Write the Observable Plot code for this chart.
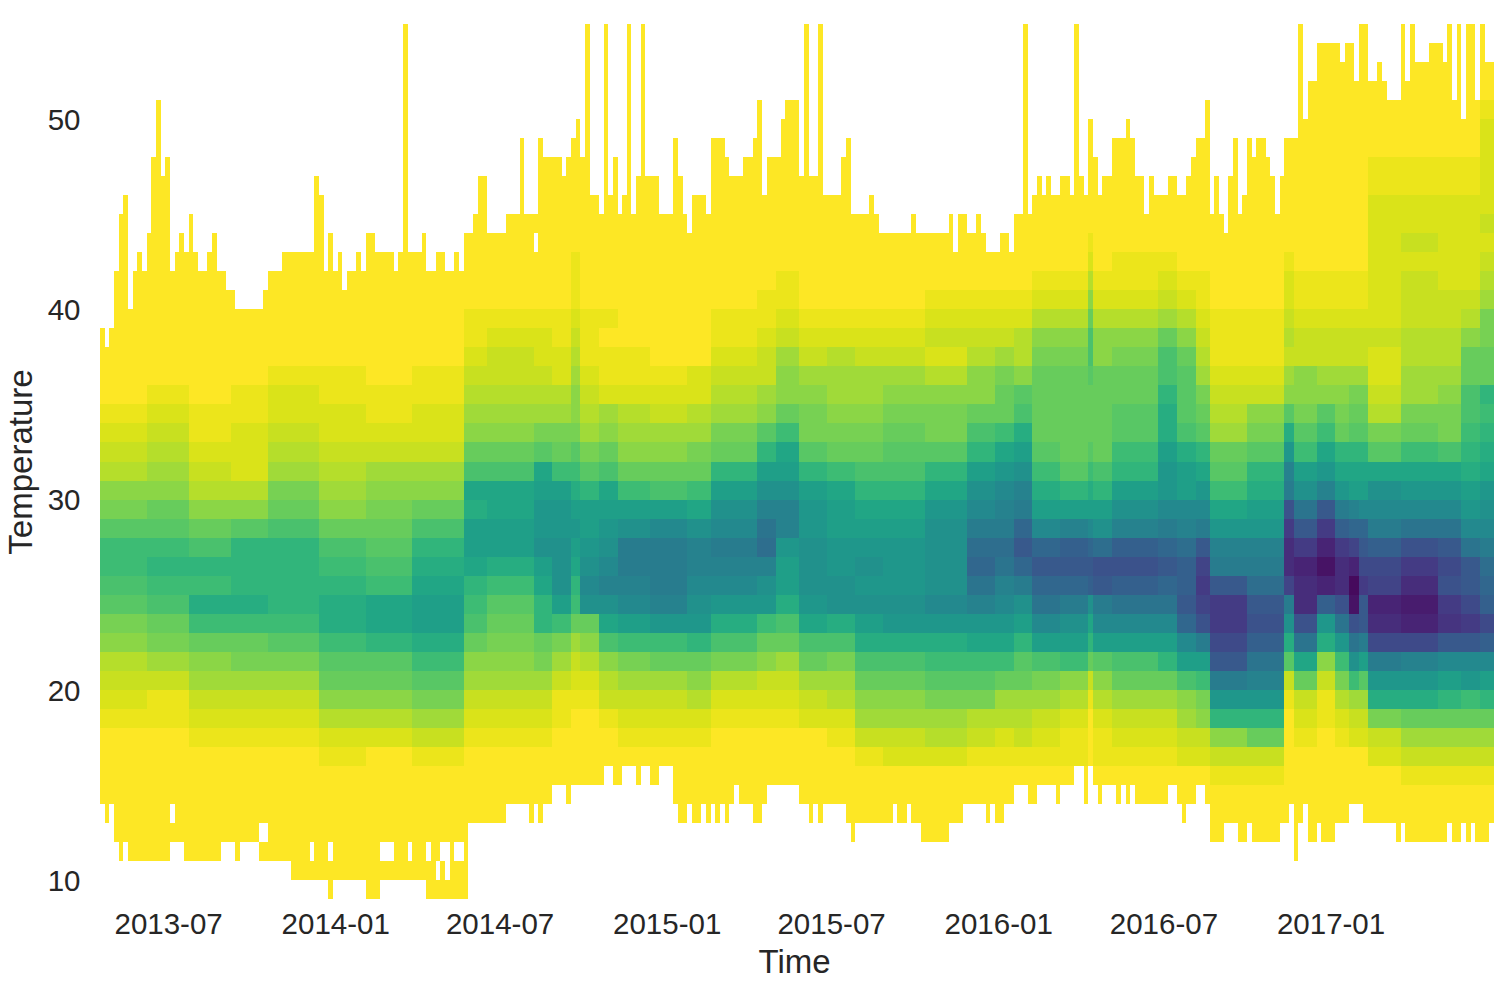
<!DOCTYPE html>
<html>
<head>
<meta charset="utf-8">
<script src="https://cdn.jsdelivr.net/npm/d3@7"></script>
<script src="https://cdn.jsdelivr.net/npm/@observablehq/plot@0.6"></script>
<style>html,body{margin:0;padding:0;background:#fff}svg{display:block}</style>
</head>
<body>
<div id="chart"></div>
<script>
const xTicks = ["2013-07-01","2014-01-01","2014-07-01","2015-01-01","2015-07-01","2016-01-01","2016-07-01","2017-01-01"];
const yTicks = [10,20,30,40,50];
const timeStart = "2013-04-17";
const timeEnd = "2017-06-30";

// Upper edge of the filled range, one value per time column
const tops = [
39,38,39,42,45,46,40,42,43,42,44,48,51,47,48,42,43,44,43,45,
43,42,42,43,44,42,42,41,41,40,40,40,40,40,40,41,42,42,42,43,
43,43,43,43,43,43,47,46,42,44,42,43,41,42,42,43,42,44,44,43,
43,43,43,42,43,55,43,43,43,44,42,42,43,43,42,42,43,42,44,44,
45,47,47,44,44,44,44,45,45,45,49,45,45,45,49,48,48,48,48,47,
48,49,50,48,55,46,46,45,55,46,48,45,46,55,45,47,55,47,47,47,
45,45,45,49,47,45,44,46,46,46,45,49,49,49,48,47,47,47,48,48,
49,51,46,48,48,48,50,51,51,51,47,55,47,47,55,46,46,46,46,48,
49,45,45,45,45,46,45,44,44,44,44,44,44,44,45,44,44,44,44,44,
44,44,45,43,45,45,44,44,45,44,43,43,43,44,44,43,45,45,55,45,
46,47,46,47,46,46,47,47,46,55,47,46,50,48,46,47,47,49,49,49,
50,49,47,47,45,47,46,46,46,47,47,46,46,47,48,49,49,51,45,47,
45,44,47,49,45,46,49,48,49,49,48,47,45,47,49,49,49,55,50,52,
52,54,54,54,54,54,53,54,54,52,55,55,52,52,53,52,51,51,51,55,
52,55,53,53,53,54,54,54,53,55,51,55,50,55,55,51,55,53,53];

// Lower edge of the filled range, one value per time column
const bottoms = [
14,13,14,12,11,12,11,11,11,11,11,11,11,11,11,12,12,12,11,11,
11,11,11,11,11,11,12,12,12,11,12,12,12,12,11,11,11,11,11,11,
11,10,10,10,10,10,10,10,10,9,10,10,10,10,10,10,10,9,9,9,
10,10,10,10,10,10,10,10,10,10,9,9,9,9,9,9,9,9,9,13,
13,13,13,13,13,13,13,14,14,14,14,14,13,14,13,14,14,15,15,15,
14,15,15,15,15,15,15,15,16,16,15,15,16,16,16,15,16,16,15,15,
16,16,16,14,13,13,14,13,13,14,13,14,13,14,13,14,15,14,14,14,
13,13,14,15,15,15,15,15,15,15,14,14,13,14,13,14,14,14,14,14,
13,12,13,13,13,13,13,13,13,13,14,13,13,14,13,13,12,12,12,12,
12,12,13,13,13,14,14,14,14,14,13,14,13,13,14,14,15,15,15,14,
14,15,15,15,15,14,15,15,15,16,16,14,16,15,14,15,15,15,14,15,
14,15,14,14,14,14,14,14,14,15,15,14,13,14,14,15,15,14,12,12,
12,13,13,13,12,12,13,12,12,12,12,12,12,13,13,14,11,13,14,12,
12,13,12,12,12,13,13,13,14,14,14,13,13,13,13,13,13,13,12,13,
12,12,12,12,12,12,12,12,12,13,12,12,13,12,13,12,12,12,13];

// Empty cells inside the filled range: [column, temperature]
const gaps = [[15,13],[34,12],[35,12],[45,11],[49,11],[60,11],[61,11],[62,11],[66,11],
  [70,11],[73,11],[74,11],[76,11],[77,11],[72,10],[74,10],[93,43]];

// First time column of each group of similar columns
const groupStarts = [0,10,19,28,36,47,57,67,78,83,93,97,101,103,107,111,118,126,131,141,145,150,156,162,168,
  177,186,192,196,200,206,212,213,217,227,231,235,238,246,254,256,261,265,268,270,272,279,287,292,296];

// Density level (base 36) per temperature, high to low; the last character is temperature 14
const groupLevels = [
"0000000000 00001234679bba9 7643210000",
"0000000000 00012345689bcba 8753110000",
"0000000000 00001123468acbd b865321000",
"0000000000 00011222469cccd b875321000",
"0000000000 0012234578acccc b975321000",
"0000000000 00112234568abcd db98642100",
"0000000000 000112356789abe ec98642000",
"0000000000 0011223568acdef fdb9753100",
"0000000001 1234568aedffecb a865321000",
"0000000001 2334568aeeffdb9 8765321000",
"0000000001 2234579efgghfec c875321000",
"0000000001 1224578bfgghhhf b753110000",
"0000001112 3456679bdfgfecb 8532100000",
"0000000001 11234579cffghih 8642100000",
"0000000001 0112568aefghijh ea64310000",
"0000000000 01124568bfhkkji fb75321000",
"0000000000 00123568afikkkj gb85321000",
"0000000000 00224578behjjih gc86421000",
"0000000001 1234578cfhikjig da74210000",
"0000000011 233569cfhjlmjhg b863210000",
"0000000112 35668befhjjgffd a853210000",
"0000000001 2356779cfgghhhg ea85320000",
"0000000001 2455678beffgghh da75421000",
"0000000001 2355678acefghgh fda8653100",
"0000000001 2356789acefgggh gda8653200",
"0000000012 3246779ceghhhhi gdb9754200",
"0000000012 34668acfhikmnlj geb9743100",
"0000000012 35788begijkmlji geb8542100",
"0000000012 4469adfhjknpnkh fc98543100",
"0000000124 6788889bdfinpnl ifa7532100",
"0000000124 67888889cfjopnk hfb6421100",
"0000012468 aa98889bdfinpoh ec83100000",
"0000000124 6688888acfhmqpk if96421100",
"0000001124 678899bcfhjoqol ifa8532100",
"0000001235 8aacddfggiknpnl ifc8532100",
"0000000124 68999adffijmoop nifa653200",
"0000000112 345789cegikpsts qkfb763200",
"0000000001 11234589begjkpt trpkgc6310",
"0000000001 1123679cdfgjkmp qoljgc8310",
"0000001223 43569dgjkqtvvsk hd93100000",
"0000000112 336679bfhlptwvv qle8321000",
"0000000112 33569begjptwywo gd63110000",
"0000000112 335678cegkotvvq lgb7421000",
"0000000112 335789cefjnswzy qlhb532000",
"0000000112 335789cefinprtp pkf9532000",
"0112222222 3223479ehikorsw vrkgd73200",
"0112232333 445578begilqtvx wrjgd85310",
"0112222233 445677aegilprqt upifc85310",
"0112222234 688aabcdfgilppr tpigb85310",
"0122222323457 788cbcdeghikmno roifc85310"
];

// Level fraction to position on the colour ramp
const rampIn  = [0, .1, .2, .3, .4, .5, .6, .7, .8, 1];
const rampOut = [0, .1, .21, .31, .42, .53, .63, .73, .82, 1];
const ramp = d3.scaleLinear(rampIn, rampOut);

const t0 = +new Date(timeStart), t1 = +new Date(timeEnd), nCols = tops.length;
const colDate = i => new Date(t0 + i * (t1 - t0) / nCols);
const gapSet = new Set(gaps.map(g => g.join("_")));
const levels = groupLevels.map(s => s.replace(/ /g, ""));
const cells = [];
for (let c = 0; c < nCols; c++) {
  const g = d3.bisectRight(groupStarts, c) - 1;
  const s = levels[g];
  for (let L = bottoms[c]; L < tops[c]; L++) {
    if (gapSet.has(c + "_" + L)) continue;
    const j = s.length - 1 - (L - 14);
    const ch = (L >= 14 && j >= 0) ? s[j] : "0";
    cells.push({x1: colDate(c), x2: colDate(c + 1), y1: L, y2: L + 1, level: ramp(parseInt(ch, 36) / 36)});
  }
}

const chart = Plot.plot({
  width: 1499, height: 993,
  marginLeft: 100, marginRight: 5, marginTop: 24, marginBottom: 94,
  style: {fontFamily: "'Liberation Sans', Arial, sans-serif", color: "#262626", background: "#fff"},
  x: {type: "utc", domain: [new Date(t0), new Date(t1)]},
  y: {domain: [9, 55]},
  color: {type: "linear", scheme: "viridis", reverse: true, domain: [0, 1]},
  marks: [
    Plot.rect(cells, {x1: "x1", x2: "x2", y1: "y1", y2: "y2", fill: "level", shapeRendering: "crispEdges"}),
    Plot.axisX({
      ticks: xTicks.map(d => new Date(d)), tickFormat: d3.utcFormat("%Y-%m"),
      tickSize: 0, tickPadding: 14, fontSize: 29.5, label: null
    }),
    Plot.text(["Time"], {frameAnchor: "bottom", lineAnchor: "middle", dx: -3, dy: 63, fontSize: 33, fill: "#262626"}),
    Plot.axisY({
      ticks: yTicks, tickSize: 0, tickPadding: 20, fontSize: 29.5, dy: 1, label: null
    }),
    Plot.axisY({
      ticks: [], tickSize: 0, fontSize: 33,
      label: "Temperature", labelAnchor: "center", labelArrow: "none", labelOffset: 92
    })
  ]
});
document.getElementById("chart").appendChild(chart);
</script>
</body>
</html>
